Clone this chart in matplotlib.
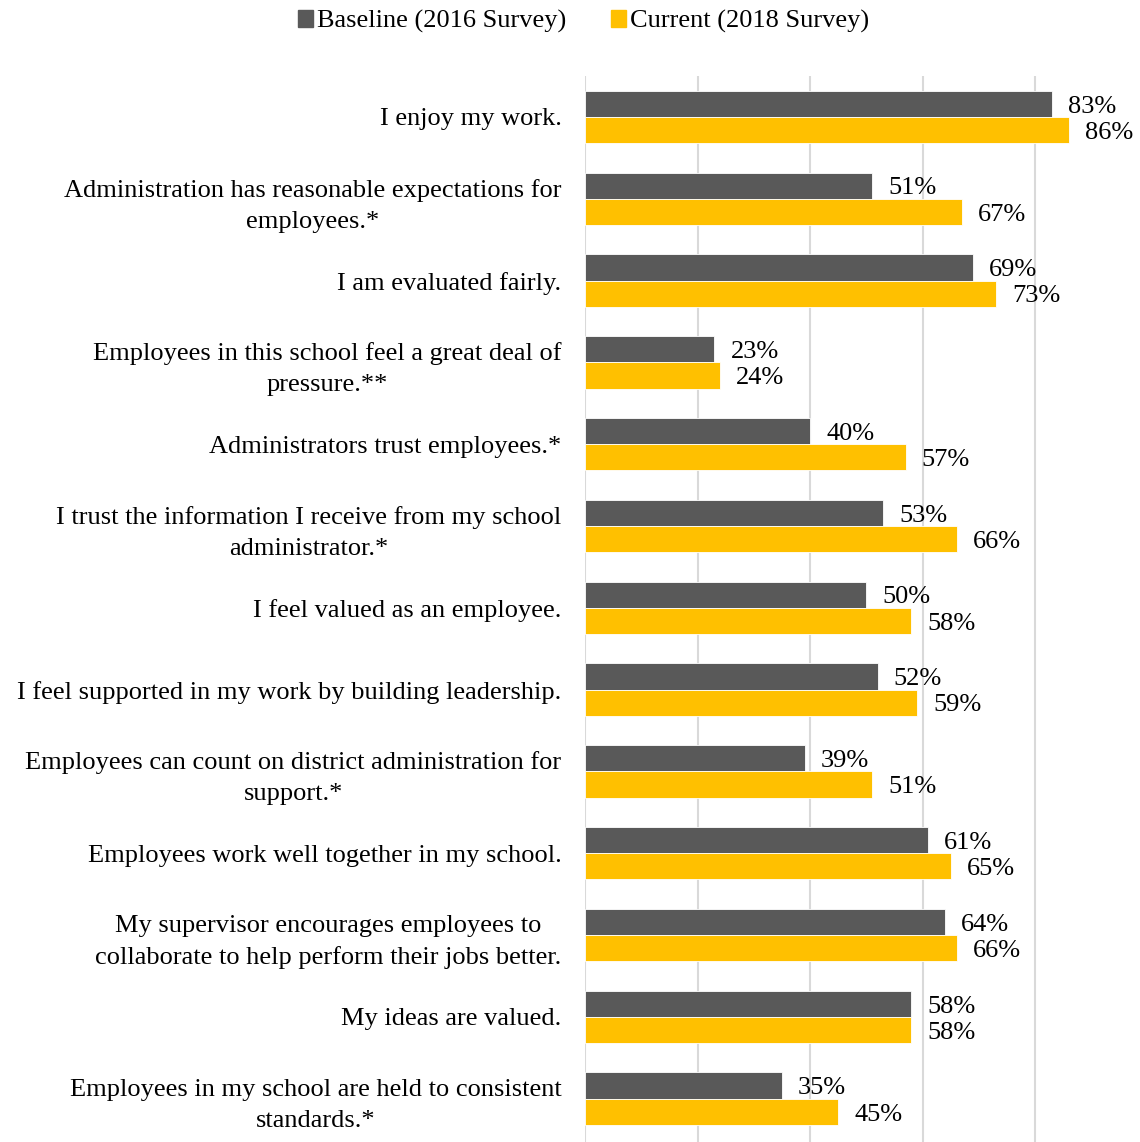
import numpy as np
import matplotlib.pyplot as plt
from matplotlib.patches import Patch

plt.rcParams['font.family'] = ['Liberation Serif', 'DejaVu Serif']

labels = [
    "I enjoy my work.",
    "Administration has reasonable expectations for\nemployees.*",
    "I am evaluated fairly.",
    "Employees in this school feel a great deal of\npressure.**",
    "Administrators trust employees.*",
    "I trust the information I receive from my school\nadministrator.*",
    "I feel valued as an employee.",
    "I feel supported in my work by building leadership.",
    "Employees can count on district administration for\nsupport.*",
    "Employees work well together in my school.",
    "My supervisor encourages employees to\ncollaborate to help perform their jobs better.",
    "My ideas are valued.",
    "Employees in my school are held to consistent\nstandards.*",
]
baseline = [83, 51, 69, 23, 40, 53, 50, 52, 39, 61, 64, 58, 35]
current = [86, 67, 73, 24, 57, 66, 58, 59, 51, 65, 66, 58, 45]

gray = "#595959"
gold = "#FFC000"
fs = 19

fig = plt.figure(figsize=(11.4, 11.42), dpi=100)
ax = fig.add_axes([585 / 1140, 0, 1 - 585 / 1140, 1 - 76 / 1142])

y = np.arange(len(labels))
h = 0.32
ax.barh(y - h / 2, baseline, height=h, color=gray, edgecolor="white", linewidth=0.6, zorder=3)
ax.barh(y + h / 2, current, height=h, color=gold, edgecolor="white", linewidth=0.6, zorder=3)

for i in range(len(labels)):
    ax.annotate(f"{baseline[i]}%", (baseline[i], y[i] - h / 2), xytext=(11.5, -2),
                textcoords="offset points", ha="left", va="center", fontsize=fs)
    ax.annotate(f"{current[i]}%", (current[i], y[i] + h / 2), xytext=(11.5, -2),
                textcoords="offset points", ha="left", va="center", fontsize=fs)

ax.set_xlim(0, 98.6)
ax.set_ylim(12.53, -0.5)
ax.set_xticks([0, 20, 40, 60, 80])
ax.set_xticklabels([])
ax.grid(axis="x", color="#D9D9D9", linewidth=1.5, zorder=0)
ax.set_yticks(y)
ax.set_yticklabels(labels, fontsize=fs)
for t in ax.get_yticklabels():
    t.set_multialignment("center")
    t.set_linespacing(1.52)
ax.tick_params(axis="both", length=0)
ax.tick_params(axis="y", pad=17)
for s in ax.spines.values():
    s.set_visible(False)

handles = [Patch(color=gray, label="Baseline (2016 Survey)"),
           Patch(color=gold, label="Current (2018 Survey)")]
fig.legend(handles=handles, loc="upper center", bbox_to_anchor=(0.512, 1.012), ncol=2,
           frameon=False, fontsize=fs, handlelength=0.57, handleheight=0.57,
           handletextpad=0.15, columnspacing=1.7)

fig.savefig("out.png", dpi=100)
